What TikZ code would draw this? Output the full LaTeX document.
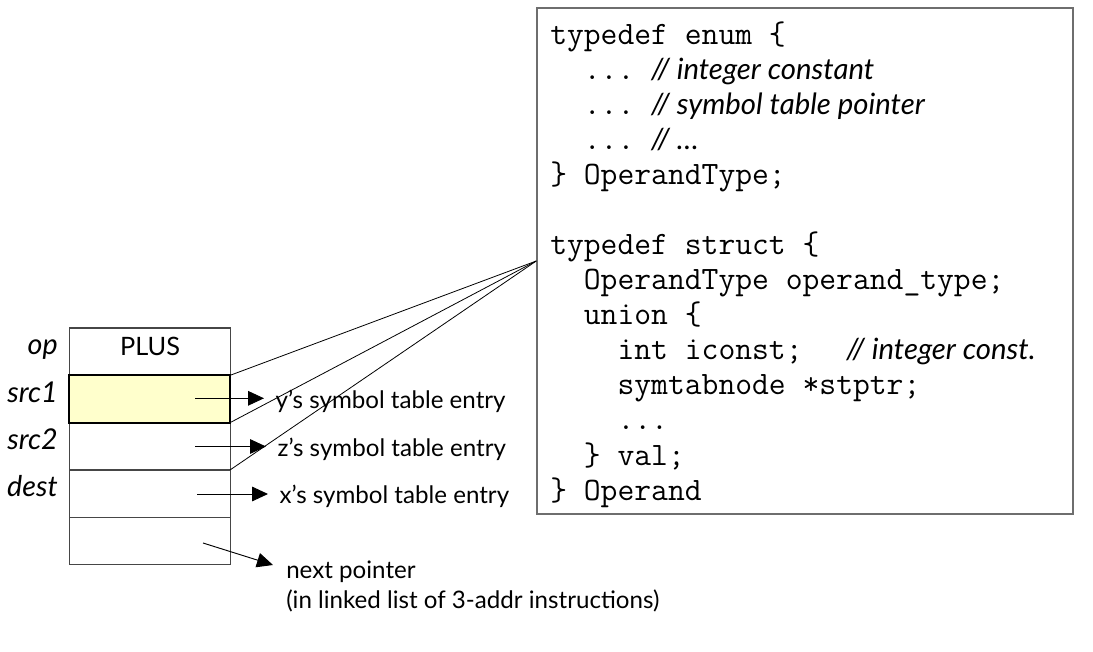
\documentclass[tikz,border=0pt]{standalone}
\usepackage{fontspec}
\setmainfont{Lato}
\usepackage{tikz}
\usetikzlibrary{arrows.meta,calc,positioning}
\usepackage{xcolor}
\definecolor{cellyellow}{RGB}{255,255,204}
\definecolor{framegray}{RGB}{110,110,110}
\definecolor{gridgray}{RGB}{70,70,70}
\newcommand{\lblfont}{\fontsize{18.1}{22.5}\selectfont}
\newcommand{\rowfont}{\fontsize{21.5}{24}\selectfont}
\newcommand{\codefont}{\fontsize{24.5}{26}\selectfont\ttfamily}
\newcommand{\cmt}[1]{{\normalfont\fontsize{22}{26}\selectfont\itshape #1}}
\newcommand{\tdots}{.{}.{}.}

\begin{document}
\begin{tikzpicture}[x=0.75pt,y=-0.75pt,
  cell/.style={draw=gridgray,line width=0.9pt,minimum width=120.75pt,minimum height=35.5pt,inner sep=0pt,outer sep=0pt},
  hotcell/.style={cell,draw=black,line width=1.6pt,fill=cellyellow},
  rowlbl/.style={font=\rowfont\itshape,inner sep=0pt,anchor=base east},
  entry/.style={font=\lblfont,inner xsep=8.5pt,inner ysep=0pt,anchor=base west},
  ptr/.style={-{Triangle[length=12pt,width=11pt]},line width=0.7pt},
  link/.style={line width=0.6pt},
  codeline/.style={font=\codefont,inner sep=0pt,anchor=base west},
  codeframe/.style={draw=framegray,line width=1.1pt,minimum width=402pt,minimum height=379.5pt,inner sep=0pt}]
\useasboundingbox (0,0) rectangle (1093,652);
% instruction record
\node[cell] (op) at (149.6,351.6) {};
\node[cell] (src2) at (149.6,446.3) {};
\node[cell] (dest) at (149.6,493.6) {};
\node[cell] (nxt) at (149.6,540.9) {};
\node[hotcell] (src1) at (149.6,399.0) {};
\node[font=\fontsize{19}{22}\selectfont,inner sep=0pt,anchor=base] (plus) at (150,356) {PLUS};
\foreach \nm/\y in {op/355,src1/402.7,src2/450,dest/496.7}
   \node[rowlbl] (\nm lbl) at (58,\y) {\nm};
% operand targets
\node[entry] (ylbl) at (264,408.7) {y’s symbol table entry};
\node[entry] (zlbl) at (266,456) {z’s symbol table entry};
\node[entry] (xlbl) at (268,503) {x’s symbol table entry};
\node[font=\lblfont,inner sep=0pt,anchor=base west,align=left] (nextlbl) at (286,608)
   {next pointer\\(in linked list of 3-addr instructions)};
\coordinate (t1) at (195,398.3);
\coordinate (t2) at (195,446.5);
\coordinate (t3) at (197,494);
\coordinate (t4) at (203,543);
\coordinate (nexttip) at (273,565);
\draw[ptr] (t1) -- (t1 -| ylbl.west);
\draw[ptr] (t2) -- (t2 -| zlbl.west);
\draw[ptr] (t3) -- (t3 -| xlbl.west);
\draw[ptr] (t4) -- (nexttip);
% operand struct
\node[codeframe] (codebox) at (805,261) {};
\foreach \txt [count=\i from 0] in {
   {typedef enum \{},
   {~~\tdots~\cmt{// integer constant}},
   {~~\tdots~\cmt{// symbol table pointer}},
   {~~\tdots~\cmt{// …}},
   {\}~OperandType;},
   {},
   {typedef struct \{},
   {~~OperandType operand\_type;},
   {~~union \{},
   {~~~~int iconst;~~\hspace{7.5pt}\cmt{// integer const.}},
   {~~~~symtabnode *stptr;},
   {~~~~\tdots},
   {~~\}~val;},
   {\}~Operand}}
   \node[codeline] (code\i) at (550,{45+35*\i}) {\txt};
\draw[link] (codebox.west) -- (src1.north east);
\draw[link] (codebox.west) -- (src2.north east);
\draw[link] (codebox.west) -- (dest.north east);
\end{tikzpicture}
\end{document}
